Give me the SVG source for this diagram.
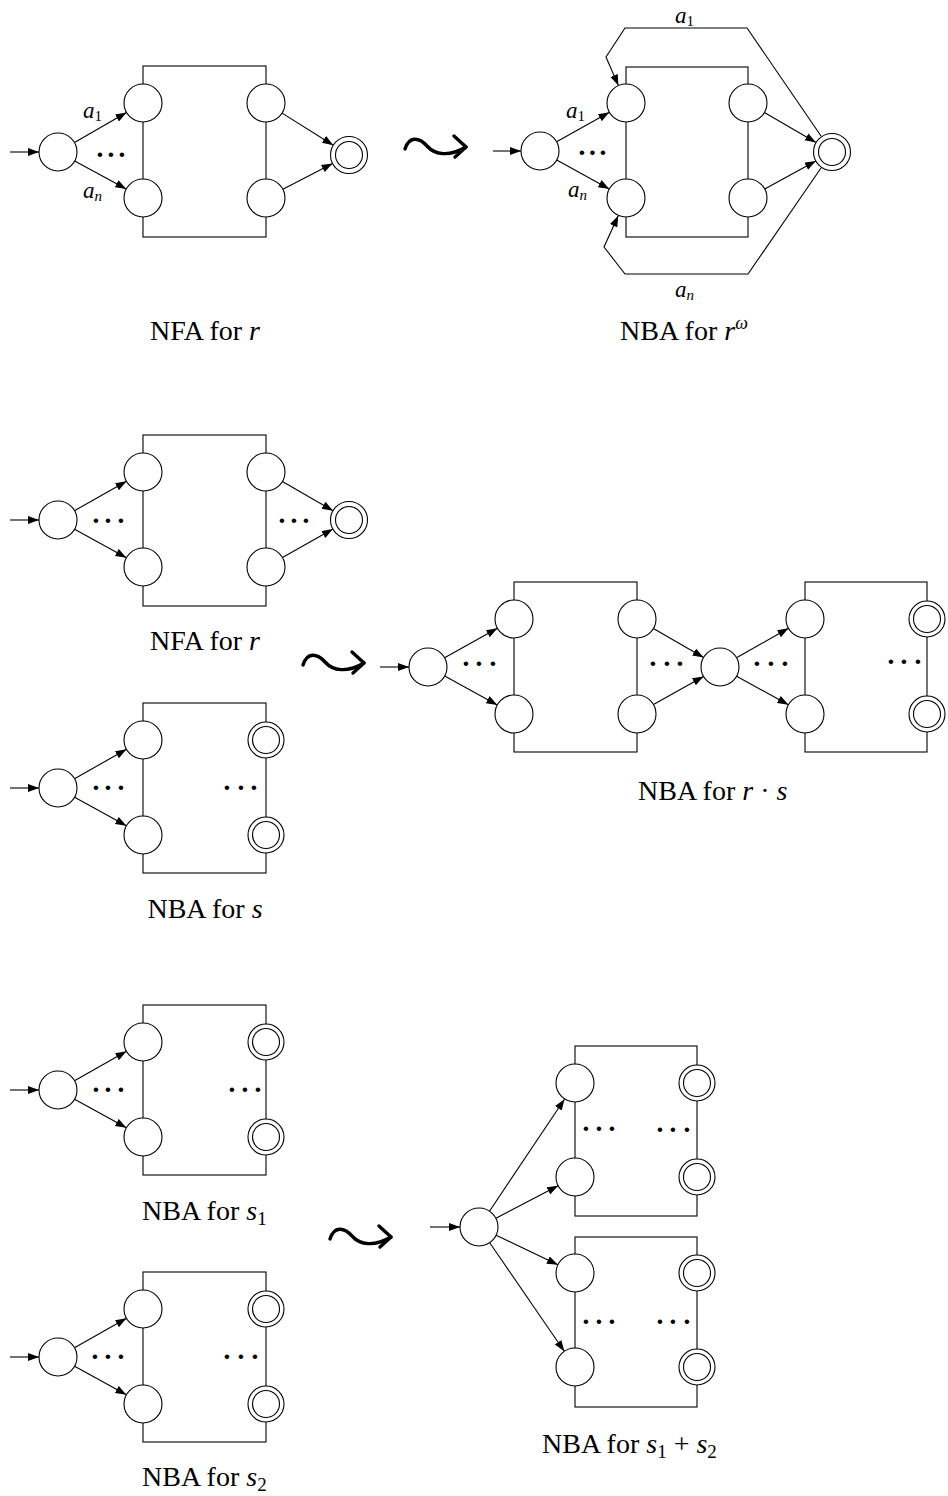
<svg xmlns="http://www.w3.org/2000/svg" width="948" height="1496" viewBox="0 0 948 1496">
<style>
.st{fill:#fff;stroke:#000;stroke-width:1.1}
.in{fill:none;stroke:#000;stroke-width:1.1}
.box{fill:none;stroke:#000;stroke-width:1.1}
.e{fill:none;stroke:#000;stroke-width:1.1;marker-end:url(#ah)}
text{font-family:'Liberation Serif','DejaVu Serif',serif;fill:#000}
.lbl{font-size:28px}
.al{font-size:23px}
.it{font-style:italic}
.dots{font-size:28px;font-weight:bold;text-anchor:middle}
.sq{fill:none;stroke:#000;stroke-width:3.4;stroke-linecap:round;stroke-linejoin:round}
</style>
<defs>
<marker id="ah" markerUnits="userSpaceOnUse" markerWidth="12" markerHeight="9" refX="11" refY="4" orient="auto">
<path d="M0,0 L11,4 L0,8 z" fill="#000"/>
</marker>
<g id="leadsto">
<path class="sq" d="M0,2 C4,-11 14,-10 22,-1 S44,10 61,0"/>
<path class="sq" d="M49,-11 L61,0 L50,10"/>
</g>
</defs>

<!-- squiggle arrows -->
<g id="transforms">
<use href="#leadsto" x="405" y="147"/>
<use href="#leadsto" x="303" y="663"/>
<use href="#leadsto" x="330" y="1237"/>
</g>

<!-- boxes -->
<g id="boxes">
<rect class="box" x="143" y="66" width="123" height="171"/>
<rect class="box" x="626" y="67" width="122" height="170"/>
<rect class="box" x="143" y="435" width="123" height="171"/>
<rect class="box" x="143" y="703" width="123" height="170"/>
<rect class="box" x="514" y="582" width="123" height="170"/>
<rect class="box" x="805" y="582" width="122" height="170"/>
<rect class="box" x="143" y="1005" width="123" height="170"/>
<rect class="box" x="143" y="1272" width="123" height="170"/>
<rect class="box" x="575" y="1046" width="122" height="170"/>
<rect class="box" x="575" y="1237" width="122" height="170"/>
</g>

<!-- connectors -->
<g id="connectors">
<path class="e" d="M10,152 L39,152"/>
<path class="e" d="M74.5,142.5 L126.5,112.5"/>
<path class="e" d="M74.7,161 L126.3,189"/>
<path class="e" d="M282.1,113.1 L333.3,145.2"/>
<path class="e" d="M282.9,189.3 L332.6,163.5"/>
<path class="e" d="M493,151 L521,151"/>
<path class="e" d="M556.6,141.7 L609.4,112.3"/>
<path class="e" d="M556.7,160.1 L609.3,188.9"/>
<path class="e" d="M764.4,112.6 L816,142.4"/>
<path class="e" d="M764.7,188.9 L815.8,160.9"/>
<path class="e" d="M821.2,136.3 L747,28 L625,28 L606,57 L618.4,85.6"/>
<path class="e" d="M821.2,167.7 L748,274 L625,274 L604,247 L618.2,215.7"/>
<path class="e" d="M10,520 L39,520"/>
<path class="e" d="M74.5,510.7 L126.5,481.3"/>
<path class="e" d="M74.6,529.2 L126.4,557.8"/>
<path class="e" d="M282.4,481.5 L333,510.7"/>
<path class="e" d="M282.5,557.6 L332.9,529.1"/>
<path class="e" d="M10,788 L39,788"/>
<path class="e" d="M74.5,778.7 L126.5,749.3"/>
<path class="e" d="M74.6,797.2 L126.4,825.8"/>
<path class="e" d="M380,667 L409,667"/>
<path class="e" d="M444.6,657.7 L497.4,628.3"/>
<path class="e" d="M444.7,676.1 L497.3,704.9"/>
<path class="e" d="M653.4,628.5 L703.6,657.5"/>
<path class="e" d="M653.5,704.6 L703.5,676.4"/>
<path class="e" d="M736.5,657.7 L788.5,628.3"/>
<path class="e" d="M736.6,676.2 L788.4,704.8"/>
<path class="e" d="M10,1090 L39,1090"/>
<path class="e" d="M74.5,1080.7 L126.5,1051.3"/>
<path class="e" d="M74.6,1099.2 L126.4,1127.8"/>
<path class="e" d="M10,1357 L39,1357"/>
<path class="e" d="M74.5,1347.7 L126.5,1318.3"/>
<path class="e" d="M74.6,1366.2 L126.4,1394.8"/>
<path class="e" d="M430,1227 L460,1227"/>
<path class="e" d="M489.5,1211.2 L564.5,1099.2"/>
<path class="e" d="M495.9,1218.2 L558.1,1185.8"/>
<path class="e" d="M496.1,1235.2 L557.9,1264.8"/>
<path class="e" d="M489.7,1242.7 L564.3,1351.3"/>
</g>

<g id="A0"><circle class="st" cx="58" cy="152" r="19"/></g>
<g id="A1"><circle class="st" cx="143" cy="103" r="19"/></g>
<g id="A2"><circle class="st" cx="143" cy="198" r="19"/></g>
<g id="A3"><circle class="st" cx="266" cy="103" r="19"/></g>
<g id="A4"><circle class="st" cx="266" cy="198" r="19"/></g>
<g id="Af"><circle class="st" cx="349" cy="155" r="18.5"/><circle class="in" cx="349" cy="155" r="13.5"/></g>

<g id="B0"><circle class="st" cx="540" cy="151" r="19"/></g>
<g id="B1"><circle class="st" cx="626" cy="103" r="19"/></g>
<g id="B2"><circle class="st" cx="626" cy="198" r="19"/></g>
<g id="B3"><circle class="st" cx="748" cy="103" r="19"/></g>
<g id="B4"><circle class="st" cx="748" cy="198" r="19"/></g>
<g id="Bf"><circle class="st" cx="832" cy="152" r="18.5"/><circle class="in" cx="832" cy="152" r="13.5"/></g>

<g id="C0"><circle class="st" cx="58" cy="520" r="19"/></g>
<g id="C1"><circle class="st" cx="143" cy="472" r="19"/></g>
<g id="C2"><circle class="st" cx="143" cy="567" r="19"/></g>
<g id="C3"><circle class="st" cx="266" cy="472" r="19"/></g>
<g id="C4"><circle class="st" cx="266" cy="567" r="19"/></g>
<g id="Cf"><circle class="st" cx="349" cy="520" r="18.5"/><circle class="in" cx="349" cy="520" r="13.5"/></g>

<g id="D0"><circle class="st" cx="58" cy="788" r="19"/></g>
<g id="D1"><circle class="st" cx="143" cy="740" r="19"/></g>
<g id="D2"><circle class="st" cx="143" cy="835" r="19"/></g>
<g id="D3"><circle class="st" cx="266" cy="740" r="18"/><circle class="in" cx="266" cy="740" r="13.5"/></g>
<g id="D4"><circle class="st" cx="266" cy="835" r="18"/><circle class="in" cx="266" cy="835" r="13.5"/></g>

<g id="E0"><circle class="st" cx="428" cy="667" r="19"/></g>
<g id="E1"><circle class="st" cx="514" cy="619" r="19"/></g>
<g id="E2"><circle class="st" cx="514" cy="714" r="19"/></g>
<g id="E3"><circle class="st" cx="637" cy="619" r="19"/></g>
<g id="E4"><circle class="st" cx="637" cy="714" r="19"/></g>
<g id="E5"><circle class="st" cx="720" cy="667" r="19"/></g>
<g id="E6"><circle class="st" cx="805" cy="619" r="19"/></g>
<g id="E7"><circle class="st" cx="805" cy="714" r="19"/></g>
<g id="E8"><circle class="st" cx="927" cy="619" r="18"/><circle class="in" cx="927" cy="619" r="13.5"/></g>
<g id="E9"><circle class="st" cx="927" cy="714" r="18"/><circle class="in" cx="927" cy="714" r="13.5"/></g>

<g id="F0"><circle class="st" cx="58" cy="1090" r="19"/></g>
<g id="F1"><circle class="st" cx="143" cy="1042" r="19"/></g>
<g id="F2"><circle class="st" cx="143" cy="1137" r="19"/></g>
<g id="F3"><circle class="st" cx="266" cy="1042" r="18"/><circle class="in" cx="266" cy="1042" r="13.5"/></g>
<g id="F4"><circle class="st" cx="266" cy="1137" r="18"/><circle class="in" cx="266" cy="1137" r="13.5"/></g>

<g id="G0"><circle class="st" cx="58" cy="1357" r="19"/></g>
<g id="G1"><circle class="st" cx="143" cy="1309" r="19"/></g>
<g id="G2"><circle class="st" cx="143" cy="1404" r="19"/></g>
<g id="G3"><circle class="st" cx="266" cy="1309" r="18"/><circle class="in" cx="266" cy="1309" r="13.5"/></g>
<g id="G4"><circle class="st" cx="266" cy="1404" r="18"/><circle class="in" cx="266" cy="1404" r="13.5"/></g>

<g id="H0"><circle class="st" cx="479" cy="1227" r="19"/></g>
<g id="H1"><circle class="st" cx="575" cy="1083" r="19"/></g>
<g id="H2"><circle class="st" cx="575" cy="1177" r="19"/></g>
<g id="H3"><circle class="st" cx="575" cy="1273" r="19"/></g>
<g id="H4"><circle class="st" cx="575" cy="1367" r="19"/></g>
<g id="H5"><circle class="st" cx="697" cy="1083" r="18"/><circle class="in" cx="697" cy="1083" r="13.5"/></g>
<g id="H6"><circle class="st" cx="697" cy="1177" r="18"/><circle class="in" cx="697" cy="1177" r="13.5"/></g>
<g id="H7"><circle class="st" cx="697" cy="1273" r="18"/><circle class="in" cx="697" cy="1273" r="13.5"/></g>
<g id="H8"><circle class="st" cx="697" cy="1367" r="18"/><circle class="in" cx="697" cy="1367" r="13.5"/></g>

<g id="dots">
<text class="dots" x="100 111 122" y="164">···</text>
<text class="dots" x="582 592.5 603" y="162">···</text>
<text class="dots" x="96 108 121" y="530">···</text>
<text class="dots" x="282 294 306" y="530">···</text>
<text class="dots" x="96 108 121" y="797">···</text>
<text class="dots" x="227 241 254" y="797">···</text>
<text class="dots" x="466 479 493" y="673">···</text>
<text class="dots" x="653 667 680" y="673">···</text>
<text class="dots" x="757 771 785" y="673">···</text>
<text class="dots" x="891 904 918" y="671">···</text>
<text class="dots" x="96 108 121" y="1099">···</text>
<text class="dots" x="232 245 258" y="1099">···</text>
<text class="dots" x="95 108 121" y="1366">···</text>
<text class="dots" x="227 241 255" y="1366">···</text>
<text class="dots" x="586 599 612" y="1138">···</text>
<text class="dots" x="660 673 687" y="1139">···</text>
<text class="dots" x="586 599 612" y="1331">···</text>
<text class="dots" x="660 673 687" y="1331">···</text>
</g>

<g id="edge-labels">
<text class="al" x="83" y="118"><tspan class="it">a</tspan><tspan font-size="15" dy="3">1</tspan></text>
<text class="al" x="83" y="198"><tspan class="it">a</tspan><tspan class="it" font-size="15" dy="3">n</tspan></text>
<text class="al" x="566" y="118"><tspan class="it">a</tspan><tspan font-size="15" dy="3">1</tspan></text>
<text class="al" x="568" y="197"><tspan class="it">a</tspan><tspan class="it" font-size="15" dy="3">n</tspan></text>
<text class="al" x="675" y="23"><tspan class="it">a</tspan><tspan font-size="15" dy="3">1</tspan></text>
<text class="al" x="675" y="297"><tspan class="it">a</tspan><tspan class="it" font-size="15" dy="3">n</tspan></text>
</g>

<g id="captions">
<text class="lbl" x="205" y="340" text-anchor="middle">NFA for <tspan class="it">r</tspan></text>
<text class="lbl" x="620" y="340">NBA for <tspan class="it">r</tspan><tspan class="it" font-size="18" dy="-11">ω</tspan></text>
<text class="lbl" x="205" y="650" text-anchor="middle">NFA for <tspan class="it">r</tspan></text>
<text class="lbl" x="205" y="918" text-anchor="middle">NBA for <tspan class="it">s</tspan></text>
<text class="lbl" x="638" y="800">NBA for <tspan class="it">r</tspan> · <tspan class="it">s</tspan></text>
<text class="lbl" x="142" y="1220">NBA for <tspan class="it">s</tspan><tspan font-size="19" dy="5">1</tspan></text>
<text class="lbl" x="142" y="1486">NBA for <tspan class="it">s</tspan><tspan font-size="19" dy="5">2</tspan></text>
<text class="lbl" x="542" y="1453">NBA for <tspan class="it">s</tspan><tspan font-size="19" dy="5">1</tspan><tspan dy="-5"> + </tspan><tspan class="it">s</tspan><tspan font-size="19" dy="5">2</tspan></text>
</g>
</svg>
